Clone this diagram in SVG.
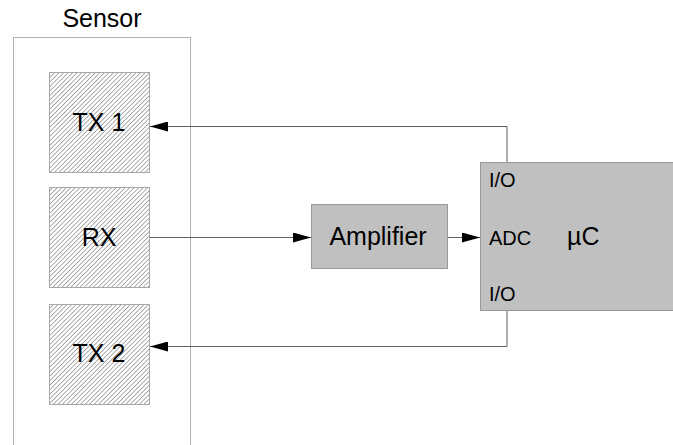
<svg xmlns="http://www.w3.org/2000/svg" width="673" height="445" viewBox="0 0 673 445">
<style>
text{font-family:"Liberation Sans",Arial,sans-serif;fill:#000}
.big{font-size:25px}
.small{font-size:20px}
.hatch{fill:url(#hatch);stroke:#a8a8a8;stroke-width:1}
.block{fill:#c0c0c0;stroke:#999;stroke-width:1}
.wire{fill:none;stroke:#606060;stroke-width:1}
</style>
<defs>
<pattern id="hatch" patternUnits="userSpaceOnUse" width="3.2" height="3.2" patternTransform="rotate(45)">
<rect width="3.2" height="3.2" fill="#fff"/>
<line x1="0" y1="0" x2="0" y2="3.2" stroke="#8a8a8a" stroke-width="1.4"/>
</pattern>
<marker id="arr" markerWidth="18" markerHeight="10" refX="18" refY="5" orient="auto" markerUnits="userSpaceOnUse">
<path d="M0,0 L18,5 L0,10 Z" fill="#000"/>
</marker>
</defs>
<rect width="673" height="445" fill="#fff"/>
<g id="sensor">
<rect x="13.5" y="37.5" width="177" height="420" fill="none" stroke="#b0b0b0" stroke-width="1"/>
<text class="big" x="102" y="27" text-anchor="middle">Sensor</text>
</g>
<g id="tx1">
<rect class="hatch" x="49.5" y="72.5" width="100" height="100"/>
<text class="big" x="99" y="131" text-anchor="middle">TX 1</text>
</g>
<g id="rx">
<rect class="hatch" x="49.5" y="187.5" width="100" height="100"/>
<text class="big" x="99" y="246" text-anchor="middle">RX</text>
</g>
<g id="tx2">
<rect class="hatch" x="49.5" y="304.5" width="100" height="100"/>
<text class="big" x="99" y="362" text-anchor="middle">TX 2</text>
</g>
<g id="amplifier">
<rect class="block" x="311.5" y="204.5" width="136" height="64"/>
<text class="big" x="378" y="245" text-anchor="middle">Amplifier</text>
</g>
<g id="uc">
<rect class="block" x="480.5" y="162.5" width="200" height="148"/>
<text class="small" x="489" y="187">I/O</text>
<text class="small" x="489" y="245">ADC</text>
<text class="big" x="567" y="245">µC</text>
<text class="small" x="489" y="301">I/O</text>
</g>
<g id="connectors">
<polyline class="wire" points="507,162 507,126.5 150,126.5" marker-end="url(#arr)"/>
<polyline class="wire" points="150,237.5 311,237.5" marker-end="url(#arr)"/>
<polyline class="wire" points="448,237.5 480,237.5" marker-end="url(#arr)"/>
<polyline class="wire" points="507,311 507,346.5 150,346.5" marker-end="url(#arr)"/>
</g>
</svg>
